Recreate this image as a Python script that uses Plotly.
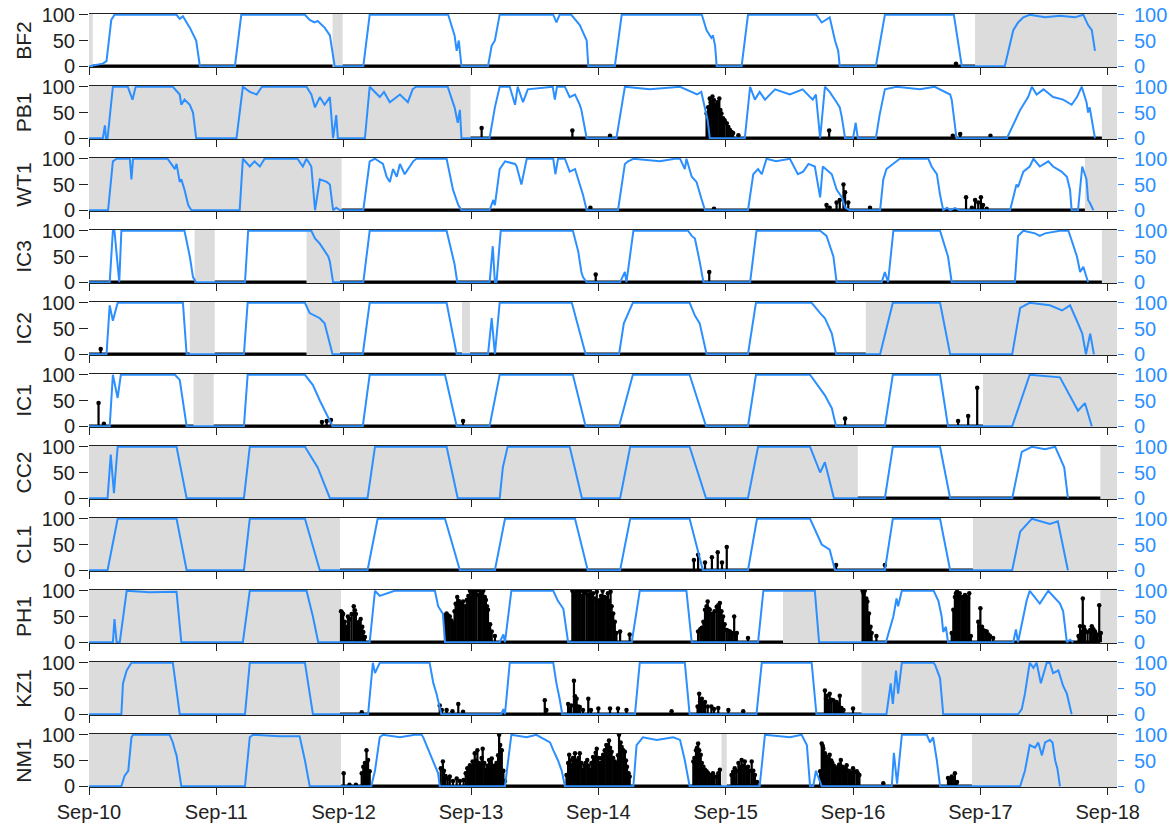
import pandas as pd
import plotly.graph_objects as go
from plotly.subplots import make_subplots

# ---------------- DATA (hours since Sep-10 00:00, values in %) ----------------
PANELS = ["BF2", "PB1", "WT1", "IC3", "IC2", "IC1", "CC2", "CL1", "PH1", "KZ1", "NM1"]
END_H = 193.75
DAY_LABELS = ["Sep-10", "Sep-11", "Sep-12", "Sep-13", "Sep-14", "Sep-15", "Sep-16", "Sep-17", "Sep-18"]

BF2_light = [(0,0),(2.6,5),(3.3,10),(4.2,90),(4.8,100),(16.5,100),(17.1,92),(17.7,97),(18.4,85),(19.0,75),(20.2,50),(20.9,0),
 (27.5,0),(28.7,100),(40.7,100),(41.6,90),(42.5,85),(43.1,88),(44.4,75),(45.4,60),(46.3,0),
 (51.7,0),(52.9,100),(67.7,100),(68.9,60),(69.3,30),(69.7,50),(70.2,0),
 (75.2,0),(75.9,40),(76.5,50),(77.4,100),(87.5,100),(88.1,85),(88.7,100),(90.9,100),(92.5,80),(93.8,50),(94.1,0),
 (99.1,0),(100.4,100),(115.5,100),(116.4,70),(117.3,55),(117.6,60),(118.0,40),(118.3,0),
 (123.0,0),(124.2,100),(137.1,100),(138.1,85),(139.6,95),(140.6,50),(141.2,30),(141.5,0),
 (148.3,0),(150.0,100),(163.0,100),(164.5,0),
 (172.6,0),(174.2,70),(175.1,85),(176.1,95),(177.3,100),(180.2,95),(183.0,98),(185.8,95),(187.4,100),(188.3,80),(189.0,70),(189.3,50),(189.6,30)]
BF2_spikes = [(163.4,5)]
BF2_gaps = [(0,0.7),(45.9,47.8),(167.0,END_H)]

PB1_light = [(0,0),(2.6,0),(3.0,25),(3.2,0),(3.5,0),(4.5,100),(7.3,100),(8.2,75),(8.8,100),(15.8,100),(17.1,85),(17.4,65),(18.0,75),(19.0,65),(19.6,50),(20.2,0),
 (27.8,0),(29.0,100),(30.3,90),(31.6,85),(32.6,100),(41.0,100),(41.9,85),(42.6,60),(43.5,80),(44.4,65),(45.4,80),(46.0,0),(46.6,45),(46.9,0),
 (52.0,0),(52.9,100),(54.8,80),(55.6,90),(56.7,70),(58.6,85),(60.1,70),(61.0,95),(61.6,100),(67.6,100),(68.9,60),(69.5,30),(69.9,55),(70.2,0),
 (75.5,0),(76.5,60),(77.4,100),(79.3,100),(80.3,65),(80.8,100),(81.8,70),(82.7,95),(87.4,100),(87.8,75),(88.2,100),(89.7,100),(90.6,80),(91.6,85),(92.5,65),(92.8,55),(93.8,0),
 (99.4,0),(101.0,100),(105.7,95),(111.4,100),(114.6,85),(115.4,90),(116.1,60),(116.6,35),(117.0,0),
 (123.6,0),(124.6,100),(125.5,75),(126.4,90),(127.4,75),(129.3,95),(132.1,85),(134.5,95),(135.9,80),(136.4,75),(137.0,85),(137.8,0),(138.7,100),(139.6,90),(140.9,70),(141.5,60),(141.9,40),(142.5,0),
 (144.0,0),(144.5,30),(144.9,0),
 (148.3,0),(149.0,45),(150.0,95),(152.2,100),(156.6,95),(159.4,100),(162.3,85),(162.6,75),(163.5,0),
 (173.0,0),(174.8,40),(175.5,55),(176.1,65),(177.0,80),(177.7,100),(178.6,85),(179.9,95),(181.7,80),(183.6,75),(185.2,65),(186.2,80),(187.1,100),(188.0,70),(188.3,50),(188.6,60),(189.6,0)]
PB1_spikes = [(74.0,20),(91.1,15),(98.2,5),(116.4,48),(116.7,60),(117.0,77),(117.2,70),(117.5,81),(117.8,74),(118.0,65),(118.3,61),(118.5,70),(118.8,77),
 (119.0,55),(119.2,48),(119.5,39),(119.8,35),(120.2,29),(120.5,22),(120.8,16),(121.1,12),(121.4,10),(122.4,6),(139.5,15),(162.8,5),(164.2,8),(169.9,5)]
PB1_gaps = [(0,71.9),(190.9,END_H)]

WT1_light = [(0,0),(3.6,0),(4.5,95),(5.2,100),(7.7,100),(8.0,60),(8.3,100),(14.8,100),(15.5,90),(16.2,80),(16.5,90),(17.1,55),(17.4,60),(18.0,40),(18.7,10),(19.3,0),
 (28.4,0),(29.0,100),(30.3,85),(31.2,95),(32.2,85),(33.1,100),(39.3,100),(40.3,85),(41.0,100),(41.9,85),(42.6,0),(43.5,60),(44.8,55),(45.4,50),(46.0,0),(46.6,5),(47.3,0),
 (51.7,0),(52.9,95),(53.9,100),(55.4,90),(56.1,65),(56.7,55),(57.3,80),(58.0,65),(58.6,90),(59.5,70),(60.5,85),(61.1,95),(61.7,100),(67.4,100),(68.6,40),(69.3,20),(69.6,10),(70.2,0),
 (75.5,0),(76.2,20),(76.5,10),(77.4,80),(78.4,95),(80.3,90),(80.6,85),(81.5,50),(82.5,100),(87.5,100),(87.9,70),(88.4,100),(89.7,100),(90.6,75),(91.6,80),(92.5,50),(93.1,30),(93.8,0),
 (99.7,0),(101.0,90),(101.6,95),(102.6,100),(107.6,95),(110.4,100),(111.4,100),(112.3,80),(112.6,100),(113.6,65),(114.5,55),(115.5,20),(116.1,0),
 (124.2,0),(125.2,70),(126.1,80),(126.8,70),(127.7,100),(129.5,95),(132.1,100),(133.6,70),(134.6,75),(135.6,90),(136.8,85),(137.8,25),(138.3,85),(140.0,70),(140.9,40),(141.9,25),(142.5,5),(143.4,0),
 (149.1,0),(149.7,60),(150.3,80),(151.6,90),(152.8,100),(158.2,100),(158.8,85),(159.8,70),(160.4,30),(161.0,0),(161.7,5),(162.3,0),(163.2,4),(164.1,0),
 (173.6,0),(174.8,50),(175.1,45),(176.1,75),(177.3,85),(178.0,100),(179.2,85),(180.8,95),(181.7,85),(183.3,75),(184.3,65),(184.9,40),(185.2,0),(186.4,0),(187.2,85),(188.0,60),(188.3,20),(188.6,15),(189.3,0)]
WT1_spikes = [(94.5,5),(117.8,3),(139.0,10),(139.6,5),(140.9,15),(141.5,20),(142.2,50),(142.5,35),(143.1,15),(147.2,5),
 (165.3,25),(166.4,5),(167.0,20),(167.6,15),(168.1,25),(168.5,10),(169.2,3)]
WT1_gaps = [(0,47.6),(187.7,END_H)]

IC3_light = [(0,0),(3.9,0),(4.5,100),(4.8,100),(5.7,0),(6.1,100),(18.0,100),(19.0,50),(19.6,10),(20.2,0),
 (29.4,0),(30.0,100),(41.9,100),(42.6,85),(43.5,75),(44.4,60),(45.1,50),(45.4,40),(46.0,0),
 (51.7,0),(52.9,100),(67.4,100),(68.6,50),(68.9,35),(69.4,0),
 (75.5,0),(76.1,70),(76.5,0),(76.8,0),(77.6,100),(91.2,100),(92.2,60),(92.8,20),(93.1,10),(93.8,0),
 (100.1,0),(101.0,20),(101.3,0),(102.6,100),(112.9,100),(113.6,90),(114.2,85),(115.1,40),(115.8,0),
 (124.6,0),(125.8,100),(137.8,100),(139.0,90),(140.3,50),(140.9,0),
 (149.4,0),(150.0,20),(150.6,0),(151.6,100),(160.4,100),(161.9,50),(162.6,0),
 (174.5,0),(175.1,90),(176.1,100),(178.3,95),(179.2,90),(180.2,95),(183.0,100),(184.6,100),(186.2,50),(186.8,20),(187.4,30),(188.3,0)]
IC3_spikes = [(95.5,15),(116.9,20)]
IC3_gaps = [(19.9,23.7),(41.0,47.3),(190.9,END_H)]

IC2_light = [(0,0),(3.3,0),(3.9,95),(4.5,65),(5.4,100),(17.7,100),(18.4,0),
 (29.2,0),(29.9,100),(40.7,100),(41.6,80),(43.5,70),(44.4,60),(45.9,0),
 (51.6,0),(52.9,100),(67.4,100),(69.3,0),
 (75.2,0),(75.9,70),(76.5,0),(77.4,100),(91.0,100),(93.6,0),
 (99.9,0),(100.8,60),(102.5,100),(113.2,100),(114.2,75),(115.1,60),(116.4,0),
 (124.2,0),(125.7,100),(136.2,100),(137.8,80),(138.7,70),(140.0,40),(140.8,0),
 (149.1,0),(151.5,100),(160.4,100),(162.3,0),
 (174.0,0),(175.5,90),(177.3,100),(181.1,95),(183.4,85),(184.9,95),(186.4,60),(187.2,40),(187.9,0),(188.7,40),(189.4,0)]
IC2_spikes = [(2.2,10)]
IC2_gaps = [(19.0,23.7),(41.0,47.3),(70.3,71.8),(146.4,END_H)]

IC1_light = [(0,0),(3.9,0),(4.5,100),(5.4,55),(6.0,100),(16.2,100),(17.1,90),(18.4,0),
 (29.2,0),(29.9,100),(40.7,100),(42.2,80),(43.5,50),(44.4,30),(45.9,0),
 (51.6,0),(52.9,100),(67.1,100),(69.3,0),
 (75.5,0),(77.4,100),(91.2,100),(93.6,0),
 (99.9,0),(102.5,100),(113.2,100),(115.1,40),(116.3,0),
 (124.2,0),(125.7,100),(135.9,100),(138.7,60),(140.0,35),(140.8,0),
 (150.0,0),(151.5,100),(160.4,100),(161.9,0),
 (174.0,0),(177.3,100),(183.0,95),(184.9,60),(186.4,30),(187.7,45),(189.0,0)]
IC1_spikes = [(1.8,45),(2.8,5),(43.9,8),(44.8,10),(45.6,12),(70.5,10),(142.5,15),(163.8,10),(165.7,20),(167.4,75)]
IC1_gaps = [(19.7,23.5),(168.5,END_H)]

CC2_light = [(0,0),(3.5,0),(4.1,85),(4.7,10),(5.4,100),(16.5,100),(18.4,0),
 (29.2,0),(30.3,100),(40.7,100),(43.1,60),(45.4,0),
 (52.5,0),(53.9,100),(67.4,100),(69.5,0),
 (77.4,0),(78.0,60),(78.9,100),(90.6,100),(92.9,0),
 (100.1,0),(102.0,100),(113.2,100),(116.3,0),
 (124.2,0),(126.1,100),(135.9,100),(137.8,50),(138.7,70),(140.4,0),
 (150.0,0),(151.5,100),(160.4,100),(162.3,0),
 (174.0,0),(175.8,90),(177.7,100),(180.2,95),(182.1,100),(183.8,60),(184.5,0)]
CC2_spikes = []
CC2_gaps = [(0,144.9),(190.6,END_H)]

CL1_light = [(0,0),(3.5,0),(5.4,100),(16.5,100),(18.4,0),
 (29.2,0),(30.3,100),(40.7,100),(43.5,0),
 (52.5,0),(54.4,100),(67.1,100),(69.9,0),
 (76.5,0),(78.4,100),(91.6,100),(94.0,0),
 (100.1,0),(102.0,100),(113.2,100),(115.7,0),
 (124.2,0),(125.9,100),(135.9,100),(138.1,50),(139.6,40),(140.6,0),
 (150.0,0),(151.5,100),(160.4,100),(162.3,0),
 (174.0,0),(175.5,75),(177.7,100),(181.1,90),(182.6,95),(184.5,0)]
CL1_spikes = [(114.0,20),(114.8,30),(116.1,15),(117.4,25),(118.5,35),(119.3,15),(120.2,45),(140.8,10),(150.0,10)]
CL1_gaps = [(0,47.3),(166.6,END_H)]

PH1_light = [(0,0),(4.5,0),(4.8,45),(5.2,0),(5.8,0),(7.1,100),(11.4,97),(16.5,98),(17.4,0),
 (29.0,0),(30.3,100),(41.0,100),(42.2,50),(43.2,0),
 (52.9,0),(53.9,100),(54.8,90),(56.1,95),(57.6,100),(65.2,100),(65.8,70),(66.7,55),(67.1,0),
 (77.4,0),(78.1,15),(78.4,0),(79.6,100),(87.5,100),(88.4,80),(89.4,65),(90.3,0),
 (102.3,0),(103.8,100),(112.6,100),(113.6,0),
 (126.1,0),(127.1,100),(136.8,100),(137.6,0),
 (150.2,0),(151.6,50),(152.2,85),(152.5,70),(153.2,100),(159.2,100),(160.1,80),(160.7,50),(161.0,20),(161.5,30),(161.9,0),
 (174.2,0),(174.7,25),(175.1,0),(176.1,50),(176.7,80),(177.3,100),(179.2,75),(180.8,100),(181.7,90),(183.0,75),(183.6,60),(184.3,0),(184.9,5),(185.5,0)]
PH1_spikes = [(47.5,60),(47.7,58),(47.9,55),(48.2,40),(48.5,30),(48.8,50),(49.1,45),(49.5,55),(49.9,70),(50.1,62),(50.3,55),(50.7,35),(50.9,40),(51.2,45),(51.5,30),(51.7,20),(52.0,10),
 (67.1,53),(67.4,56),(67.7,52),(68.0,50),(68.3,42),(68.6,37),(68.9,60),(69.1,75),(69.4,88),(69.7,80),(69.9,76),(70.2,72),(70.5,79),(70.9,70),(71.2,82),(71.5,90),(71.8,100),(72.1,95),(72.4,100),(72.7,96),(73.0,100),(73.4,92),(73.7,100),(74.0,95),(74.3,100),(74.6,88),(74.8,82),(75.0,70),(75.2,63),(75.6,35),(75.9,21),(76.5,12),
 (91.1,100),(91.4,96),(91.7,92),(91.9,100),(92.2,94),(92.5,98),(92.8,90),(93.1,100),(93.4,95),(93.8,100),(94.1,92),(94.4,100),(94.7,90),(95.0,95),(95.4,85),(95.7,98),(96.0,80),(96.3,82),(96.5,90),(96.8,100),(97.0,80),(97.2,88),(97.5,85),(97.8,95),(98.0,80),(98.3,98),(98.5,70),(98.8,56),(99.1,40),(99.4,18),(100.1,21),(101.9,15),
 (114.8,21),(115.2,25),(115.5,28),(115.8,40),(116.1,63),(116.4,70),(116.6,79),(116.8,65),(117.0,63),(117.3,55),(117.6,53),(117.9,60),(118.3,69),(118.6,72),(118.9,76),(119.2,60),(119.5,50),(119.8,35),(120.2,24),(120.5,22),(120.8,21),(121.2,18),(121.6,50),(121.9,15),(122.1,18),(124.2,8),
 (145.8,100),(146.0,95),(146.2,100),(146.5,85),(146.7,79),(147.0,56),(147.3,30),(147.5,18),(148.4,12),
 (162.6,18),(162.9,63),(163.2,88),(163.4,95),(163.6,98),(163.9,90),(164.1,95),(164.4,85),(164.6,88),(164.9,80),(165.1,92),(165.4,88),(165.7,85),(165.9,95),(166.2,12),
 (167.6,40),(167.8,30),(168.0,66),(168.3,30),(168.5,24),(168.9,22),(169.2,21),(169.5,15),(169.8,12),(170.4,8),
 (186.5,12),(186.8,31),(187.0,20),(187.3,85),(187.5,30),(187.7,24),(188.2,20),(188.7,24),(189.0,31),(189.3,25),(189.6,21),(190.0,15),(190.4,72),(190.7,18)]
PH1_gaps = [(0,47.5),(130.8,145.6),(190.6,END_H)]

KZ1_light = [(0,0),(6.1,0),(6.4,60),(7.1,85),(8.0,100),(15.8,100),(17.1,0),
 (29.4,0),(30.3,100),(40.7,100),(41.6,40),(42.2,0),
 (52.6,0),(53.5,100),(53.9,80),(54.8,100),(64.2,100),(64.9,60),(65.5,40),(66.0,20),(66.4,0),
 (77.7,0),(78.1,10),(78.4,0),(79.3,100),(87.5,100),(88.1,60),(88.7,30),(89.2,0),
 (102.9,0),(103.8,100),(112.3,100),(113.2,0),
 (125.8,0),(126.8,100),(136.2,100),(137.1,0),
 (150.3,0),(151.1,60),(151.5,20),(152.1,85),(152.5,40),(153.2,100),(159.2,100),(159.5,95),(160.4,70),(161.0,0),
 (175.1,0),(175.8,10),(176.4,40),(177.3,100),(178.0,90),(178.6,100),(179.4,60),(180.5,100),(181.1,100),(181.7,80),(182.7,85),(183.6,55),(184.3,40),(184.9,10),(185.2,0)]
KZ1_spikes = [(51.4,4),(66.1,17),(66.5,8),(67.4,8),(68.5,6),(69.6,20),(70.5,5),(85.9,27),(86.2,8),(90.3,20),(90.6,10),(90.9,17),(91.4,65),(91.6,35),(91.9,30),(92.2,15),(92.5,14),(93.1,8),
 (94.1,30),(94.6,8),(96.0,11),(98.2,11),(99.7,11),(101.3,8),(109.8,6),(114.7,15),(115.0,40),(115.2,25),(115.5,30),(115.8,20),(116.1,24),(116.6,15),(117.3,15),(117.8,10),(118.6,12),(120.5,8),(123.3,6),
 (138.7,46),(138.9,30),(139.1,36),(139.4,25),(139.6,40),(139.9,28),(140.3,27),(140.6,20),(140.9,24),(141.2,20),(141.5,36),(141.8,12),(142.2,8),(144.0,11)]
KZ1_gaps = [(0,47.3),(145.6,END_H)]

NM1_light = [(0,0),(6.1,0),(6.7,20),(7.4,30),(8.0,95),(8.3,100),(15.2,100),(15.8,85),(16.2,70),(16.5,60),(17.4,0),
 (29.4,0),(30.3,95),(30.9,100),(35.9,97),(39.7,97),(40.7,50),(41.3,20),(41.6,0),
 (53.2,0),(53.9,30),(54.8,95),(55.4,100),(58.6,95),(61.4,100),(62.7,100),(63.0,95),(63.6,80),(64.2,65),(64.9,50),(65.2,40),(65.8,25),(66.1,0),
 (78.4,0),(79.6,100),(82.5,95),(84.3,100),(86.9,85),(87.5,70),(88.4,50),(89.1,30),(89.7,0),
 (102.6,0),(103.2,80),(104.4,95),(107.0,90),(110.1,95),(111.4,90),(112.3,50),(113.2,0),
 (126.4,0),(127.4,100),(132.1,95),(134.3,100),(135.3,80),(135.9,0),(136.5,0),(137.0,30),(138.1,0),
 (151.3,0),(151.7,65),(152.3,5),(153.2,100),(157.9,100),(158.5,85),(159.1,95),(159.8,50),(160.4,0),
 (175.5,0),(176.4,30),(177.3,80),(178.3,75),(178.9,85),(179.6,60),(180.2,85),(181.1,90),(181.6,85),(182.1,50),(182.5,35),(183.0,0)]
NM1_spikes = [(48.0,25),(49.1,3),(50.3,3),(51.4,25),(51.7,38),(52.0,45),(52.3,70),(52.6,51),(52.9,29),
 (66.3,35),(66.7,48),(66.9,30),(67.2,20),(67.6,15),(68.0,19),(68.6,10),(69.3,15),(69.9,10),(70.6,12),(71.0,25),(71.3,35),(71.6,30),(71.8,41),(72.0,35),(72.3,48),(72.5,40),(72.7,64),(73.0,50),(73.2,70),(73.5,45),(73.7,41),(74.0,55),(74.2,73),(74.5,45),(74.8,32),(75.1,40),(75.4,51),(75.7,45),(75.9,54),(76.1,40),(76.3,35),(76.6,40),(76.8,45),(77.1,60),(77.3,100),(77.5,80),(77.8,70),(78.1,30),(78.4,10),
 (90.0,22),(90.3,45),(90.5,61),(90.7,50),(90.9,41),(91.2,55),(91.6,64),(91.8,50),(92.0,45),(92.3,55),(92.5,64),(92.8,45),(93.1,32),(93.4,40),(93.6,45),(93.9,51),(94.1,40),(94.4,32),(94.7,45),(95.0,57),(95.2,50),(95.5,65),(95.7,73),(96.0,55),(96.3,45),(96.6,55),(96.9,61),(97.2,70),(97.5,80),(97.7,75),(98.0,89),(98.2,75),(98.5,67),(98.8,55),(99.1,48),(99.3,45),(99.5,40),(99.7,60),(99.9,100),(100.2,85),(100.4,76),(100.7,70),(101.0,67),(101.2,50),(101.4,38),(101.7,25),(101.9,19),
 (113.9,48),(114.1,55),(114.4,70),(114.6,75),(114.8,83),(115.0,70),(115.3,61),(115.5,45),(115.8,38),(116.1,32),(116.4,29),(116.7,25),(117.0,22),(117.3,20),(117.6,25),(117.9,18),(118.3,19),(118.6,25),(118.9,32),
 (121.1,22),(121.4,28),(121.7,35),(122.0,30),(122.4,45),(122.7,38),(123.0,51),(123.3,40),(123.6,48),(123.9,35),(124.2,38),(124.5,30),(124.9,48),(125.2,30),(125.5,22),(125.9,8),
 (137.8,29),(138.1,83),(138.3,78),(138.4,73),(138.7,64),(138.9,58),(139.1,54),(139.4,50),(139.6,61),(139.9,50),(140.1,45),(140.4,40),(140.6,35),(140.9,30),(141.2,38),(141.4,42),(141.7,51),(142.0,38),(142.2,32),(142.5,35),(142.8,41),(143.1,30),(143.4,29),(143.7,25),(144.0,35),(144.3,28),(144.7,29),(144.9,25),(145.2,22),(149.7,6),
 (161.9,16),(162.3,12),(162.6,19),(162.9,14),(163.2,25),(163.6,8)]
NM1_gaps = [(0,47.5),(119.2,120.2),(166.4,END_H)]

# ---------------- STYLE ----------------
BLUE = "#2b8fff"
GREY = "#dcdcdc"
FONT = "Liberation Sans, Arial, sans-serif"
T0 = pd.Timestamp("2015-09-10")

DATA = {name: (globals()[name + "_light"], globals()[name + "_spikes"], globals()[name + "_gaps"]) for name in PANELS}


def dt(h):
    return T0 + pd.Timedelta(hours=h)


n = len(PANELS)
fig = make_subplots(rows=n, cols=1, shared_xaxes=True, vertical_spacing=19 / 773,
                    specs=[[{"secondary_y": True}] for _ in range(n)])

for i, name in enumerate(PANELS):
    r = i + 1
    light, spikes, gaps = DATA[name]
    xref = "x" if r == 1 else f"x{r}"
    yname = "y" if r == 1 else f"y{2 * r - 1}"
    for a, b in gaps:
        fig.add_shape(type="rect", xref=xref, yref=f"{yname} domain", x0=dt(a), x1=dt(b), y0=0, y1=1,
                      fillcolor=GREY, line_width=0, layer="below")
    segs = []
    cur = 0.0
    for a, b in sorted(gaps):
        if a > cur:
            segs.append((cur, a))
        cur = max(cur, b)
    if cur < END_H:
        segs.append((cur, END_H))
    bx, by = [], []
    for a, b in segs:
        bx += [dt(a), dt(b), None]
        by += [0, 0, None]
    fig.add_trace(go.Scatter(x=bx, y=by, mode="lines", line=dict(color="black", width=3.5),
                             hoverinfo="skip"), row=r, col=1, secondary_y=False)
    if spikes:
        sx = [dt(h) for h, v in spikes]
        sv = [v for h, v in spikes]
        fig.add_trace(go.Bar(x=sx, y=sv, width=0.42 * 3600 * 1000, marker=dict(color="black", line_width=0)),
                      row=r, col=1, secondary_y=False)
        fig.add_trace(go.Scatter(x=sx, y=sv, mode="markers", marker=dict(color="black", size=4.5)),
                      row=r, col=1, secondary_y=False)
    fig.add_trace(go.Scatter(x=[dt(h) for h, v in light], y=[v for h, v in light], mode="lines",
                             line=dict(color=BLUE, width=2)), row=r, col=1, secondary_y=True)

    fig.update_yaxes(row=r, col=1, secondary_y=False, range=[-1.5, 101.5], tickvals=[0, 50, 100],
                     ticks="outside", ticklen=9, tickcolor="#222", tickwidth=1, automargin=False,
                     ticklabeloverflow="allow",
                     tickfont=dict(size=20, color="#222"), showgrid=False, zeroline=False, showline=False,
                     title=dict(text=name, font=dict(size=21, color="#222"), standoff=4))
    fig.update_yaxes(row=r, col=1, secondary_y=True, range=[-1.5, 101.5], tickvals=[0, 50, 100],
                     ticks="outside", ticklen=6, tickcolor=BLUE, tickwidth=1, automargin=False,
                     ticklabeloverflow="allow",
                     tickfont=dict(size=20, color=BLUE), showgrid=False, zeroline=False, showline=False,
                     ticklabelstandoff=6)

tickvals = [dt(24 * k) for k in range(len(DAY_LABELS))]
fig.update_xaxes(type="date", domain=[0, 1], range=[dt(0), dt(END_H)], tickvals=tickvals, ticktext=DAY_LABELS,
                 ticks="outside", ticklen=7, tickcolor="#222", showline=True, mirror=True, automargin=False,
                 linecolor="#222", linewidth=1, showgrid=False, zeroline=False,
                 tickfont=dict(size=20, color="#222"))

fig.update_layout(width=1175, height=832, margin=dict(l=89, r=58, t=14, b=45, autoexpand=False),
                  paper_bgcolor="white", plot_bgcolor="white", showlegend=False,
                  barmode="overlay", font=dict(family=FONT, size=20, color="#222"))

fig.write_html("out.html", config={"displayModeBar": False},
               post_script="document.body.style.margin='0px';")
